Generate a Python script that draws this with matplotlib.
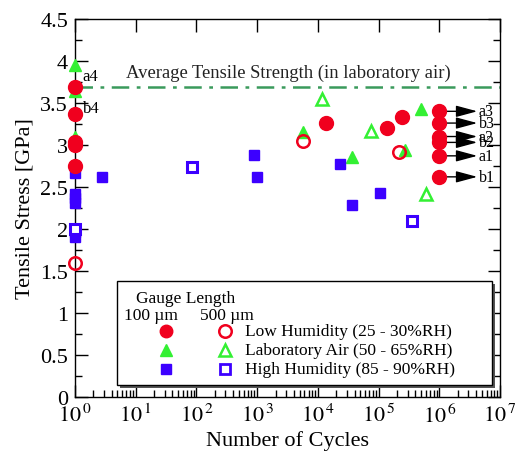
import numpy as np
import matplotlib.pyplot as plt
from matplotlib.patches import Rectangle
from matplotlib.ticker import FixedLocator, LogLocator, NullFormatter, FuncFormatter

plt.rcParams['font.family'] = ['Liberation Serif', 'DejaVu Serif']
plt.rcParams['mathtext.fontset'] = 'stix'

RED = '#f0001e'
GREEN = '#33f033'
BLUE = '#3c00ff'

# low humidity, 100 um (filled circles)
low_fill_n = [1, 1, 1, 1, 1, 13500, 135000, 240000]
low_fill_s = [3.69, 3.37, 3.04, 3.00, 2.75, 3.26, 3.20, 3.33]
# low humidity, 500 um (open circles)
low_open_n = [1, 5600, 213000]
low_open_s = [1.60, 3.05, 2.92]
# laboratory air, 100 um (filled triangles)
lab_fill_n = [1, 1, 1, 5700, 37000, 270000, 490000]
lab_fill_s = [3.95, 3.64, 3.10, 3.15, 2.86, 2.94, 3.43]
# laboratory air, 500 um (open triangles)
lab_open_n = [11500, 76000, 590000]
lab_open_s = [3.55, 3.17, 2.42]
# high humidity, 100 um (filled squares)
high_fill_n = [1, 1, 1, 1, 1, 1, 2.8, 870, 1000, 23000, 37000, 107000]
high_fill_s = [2.67, 2.42, 2.37, 2.31, 1.96, 1.90, 2.62, 2.88, 2.62, 2.77, 2.29, 2.43]
# high humidity, 500 um (open squares)
high_open_n = [1, 83, 360000]
high_open_s = [2.00, 2.74, 2.10]

# run-outs at 1e6 cycles
runout_n = [1e6, 1e6, 1e6, 1e6, 1e6, 1e6]
runout_s = [3.40, 3.26, 3.10, 3.03, 2.87, 2.62]
runout_lab = ['a3', 'b3', 'a2', 'b2', 'a1', 'b1']

avg_strength = 3.69

fig = plt.figure(figsize=(5.21, 4.52), dpi=100)
ax = fig.add_axes([0.144, 0.1195, 0.816, 0.8365])

ax.axhline(avg_strength, color='#3a9a5c', lw=1.8, ls=(0, (7, 3, 1.5, 3)), zorder=1)
ax.text(3.2e3, avg_strength + 0.07, 'Average Tensile Strength (in laboratory air)',
        ha='center', va='bottom', fontsize=13.4, color='#222222')

ms = 9
kw = dict(ls='none', clip_on=False)
ax.plot(lab_fill_n, lab_fill_s, '^', color=GREEN, ms=ms, mec=GREEN, zorder=3, **kw)
ax.plot(lab_open_n, lab_open_s, '^', color=GREEN, ms=ms, mfc='white', mec=GREEN, mew=1.8, zorder=3, **kw)
ax.plot(high_fill_n, high_fill_s, 's', color=BLUE, ms=7.5, zorder=3, **kw)
ax.plot(high_open_n, high_open_s, 's', color=BLUE, ms=7.5, mfc='white', mec=BLUE, mew=2.2, zorder=4, **kw)
ax.plot(low_open_n, low_open_s, 'o', ms=ms, mfc='none', mec=RED, mew=1.8, zorder=4, **kw)
ax.plot(low_fill_n + runout_n, low_fill_s + runout_s, 'o', color=RED, ms=10, zorder=5, **kw)

for n, s, lab in zip(runout_n, runout_s, runout_lab):
    ax.annotate('', xy=(n * 4.2, s), xytext=(n, s),
                arrowprops=dict(arrowstyle='-|>,head_length=1.3,head_width=0.35',
                                color='black', lw=1, shrinkA=0, shrinkB=0), zorder=2)
    ax.text(n * 4.4, s, lab, ha='left', va='center', fontsize=11.5)

ax.text(1.33, avg_strength + 0.03, 'a4', ha='left', va='bottom', fontsize=12, zorder=6)
ax.text(1.33, 3.44, 'b4', ha='left', va='center', fontsize=12, zorder=6)

ax.set_xscale('log')
ax.set_xlim(1, 1e7)
ax.set_ylim(0, 4.5)
ax.xaxis.set_major_locator(LogLocator(base=10, numticks=10))
ax.xaxis.set_minor_locator(LogLocator(base=10, subs=np.arange(2, 10), numticks=10))
ax.xaxis.set_minor_formatter(NullFormatter())
ax.xaxis.set_major_formatter(FuncFormatter(lambda v, p: r'$10^{\,%d}$' % round(np.log10(v))))
ax.yaxis.set_major_locator(FixedLocator(np.arange(0, 4.51, 0.5)))
ax.yaxis.set_minor_locator(FixedLocator(np.arange(0.25, 4.5, 0.5)))
ax.yaxis.set_major_formatter(FuncFormatter(lambda v, p: ('%g' % v)))

ax.tick_params(which='major', direction='in', length=9, width=1, labelsize=16,
               right=True, top=True, pad=5)
ax.tick_params(which='minor', direction='in', length=5, width=1, right=True, top=False)
for sp in ax.spines.values():
    sp.set_linewidth(1)

ax.set_xlabel('Number of Cycles', fontsize=16, labelpad=2)
ax.set_ylabel('Tensile Stress [GPa]', fontsize=16, labelpad=4)

# legend box with shadow
tr = ax.transAxes
x0, y0, w, h = 0.099, 0.033, 0.882, 0.274
ax.add_patch(Rectangle((x0 + 0.006, y0 - 0.008), w, h, transform=tr, facecolor='#555555',
                       edgecolor='none', zorder=6, clip_on=False))
ax.add_patch(Rectangle((x0, y0), w, h, transform=tr, facecolor='white',
                       edgecolor='black', lw=1, zorder=7, clip_on=False))
ax.text(0.144, 0.262, 'Gauge Length', transform=tr, fontsize=12.5, va='center', zorder=8)
ax.text(0.116, 0.217, '100 \u00b5m', transform=tr, fontsize=12.5, va='center', zorder=8)
ax.text(0.295, 0.217, '500 \u00b5m', transform=tr, fontsize=12.5, va='center', zorder=8)

leg_labels = ['Low Humidity (25 - 30%RH)', 'Laboratory Air (50 - 65%RH)',
              'High Humidity (85 - 90%RH)']
leg_marks = ['o', '^', 's']
leg_cols = [RED, GREEN, BLUE]
leg_y = [0.174, 0.124, 0.073]
for m, c, yy, lab in zip(leg_marks, leg_cols, leg_y, leg_labels):
    msz = 7 if m == 's' else 9
    ax.plot([0.213], [yy], m, color=c, ms=msz, transform=tr, zorder=8, clip_on=False)
    ax.plot([0.353], [yy], m, mfc='white', mec=c, mew=2 if m == 's' else 1.8, ms=msz,
            transform=tr, zorder=8, clip_on=False)
    ax.text(0.4, yy, lab, transform=tr, fontsize=12.5, va='center', zorder=8)

fig.savefig('out.png', dpi=100)
